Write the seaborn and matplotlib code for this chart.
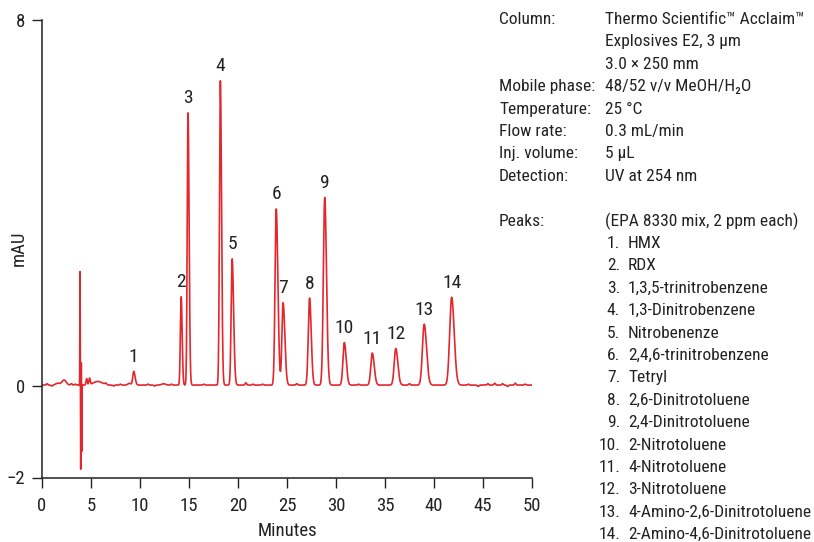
import numpy as np
import pandas as pd
import matplotlib
matplotlib.use("Agg")
import matplotlib.pyplot as plt
from matplotlib import font_manager
import seaborn as sns

# ---------------- data ----------------
peak_labels = ["1", "2", "3", "4", "5", "6", "7", "8", "9", "10", "11", "12", "13", "14"]
peak_times = [9.36, 14.2, 14.9, 18.2, 19.4, 23.9, 24.6, 27.3, 28.85, 30.85, 33.7, 36.1, 39.0, 41.8]
peak_heights = [0.30, 1.93, 5.95, 6.65, 2.76, 3.85, 1.80, 1.90, 4.10, 0.93, 0.70, 0.80, 1.33, 1.92]
peak_sigma_left = [0.10, 0.08, 0.08, 0.09, 0.10, 0.12, 0.12, 0.13, 0.14, 0.14, 0.15, 0.16, 0.18, 0.20]
peak_sigma_right = [0.14, 0.10, 0.11, 0.12, 0.15, 0.17, 0.18, 0.17, 0.18, 0.19, 0.20, 0.21, 0.24, 0.26]

# injection disturbance and baseline features
dist_times = [3.88, 3.95, 4.01, 4.06, 2.25, 1.6, 4.55, 4.85, 5.7, 8.9, 12.4,
              0.5, 1.0, 3.0, 3.4, 6.5, 7.3, 8.0, 10.8, 11.5, 13.2, 16.5, 20.8,
              21.5, 22.5, 26.0, 32.3, 37.5, 43.5, 44.5, 45.5, 46.2, 47.0, 47.5,
              48.3, 49.3]
dist_heights = [2.48, -1.84, 0.50, -1.45, 0.11, 0.04, 0.14, 0.14, 0.08, 0.04, 0.03,
                0.03, -0.02, 0.03, 0.02, 0.03, -0.02, 0.02, 0.02, -0.02, 0.02, 0.02, 0.05,
                0.02, 0.02, 0.03, 0.02, 0.03, 0.02, -0.03, 0.03, 0.04, 0.03, -0.03,
                0.04, 0.02]
dist_sigma = [0.018, 0.018, 0.015, 0.015, 0.22, 0.2, 0.06, 0.07, 0.45, 0.15, 0.2,
              0.08, 0.08, 0.08, 0.08, 0.08, 0.08, 0.08, 0.08, 0.08, 0.08, 0.08, 0.08,
              0.08, 0.08, 0.08, 0.08, 0.08, 0.08, 0.08, 0.08, 0.08, 0.08, 0.08,
              0.08, 0.08]
baseline_level = 0.02

x_range = (0, 50)
y_range = (-2, 8)
x_ticks = [0, 5, 10, 15, 20, 25, 30, 35, 40, 45, 50]
y_ticks = [-2, 0, 8]

info_keys = ["Column:", "", "", "Mobile phase:", "Temperature:", "Flow rate:",
             "Inj. volume:", "Detection:", "", "Peaks:"]
info_values = ["Thermo Scientific\u2122 Acclaim\u2122", "Explosives E2, 3 \u00b5m",
               "3.0 \u00d7 250 mm", "48/52 v/v MeOH/H\u2082O", "25 \u00b0C",
               "0.3 mL/min", "5 \u00b5L", "UV at 254 nm", "", "(EPA 8330 mix, 2 ppm each)"]
compound_names = ["HMX", "RDX", "1,3,5-trinitrobenzene", "1,3-Dinitrobenzene",
                  "Nitrobenenze", "2,4,6-trinitrobenzene", "Tetryl",
                  "2,6-Dinitrotoluene", "2,4-Dinitrotoluene", "2-Nitrotoluene",
                  "4-Nitrotoluene", "3-Nitrotoluene", "4-Amino-2,6-Dinitrotoluene",
                  "2-Amino-4,6-Dinitrotoluene"]

# ---------------- build trace from peak table ----------------
t = np.linspace(x_range[0], x_range[1], 10001)
signal = np.full_like(t, baseline_level)
for rt, h, sl, sr in zip(peak_times, peak_heights, peak_sigma_left, peak_sigma_right):
    s = np.where(t < rt, sl, sr)
    signal += h * np.exp(-0.5 * ((t - rt) / s) ** 2)
for rt, h, s in zip(dist_times, dist_heights, dist_sigma):
    signal += h * np.exp(-0.5 * ((t - rt) / s) ** 2)
df = pd.DataFrame({"Minutes": t, "mAU": signal})

# ---------------- styling ----------------
sns.set_style("ticks")
available = {f.name for f in font_manager.fontManager.ttflist}
family = [f for f in ["Liberation Sans Narrow", "Roboto Condensed", "Liberation Sans"] if f in available]
family = (family[:1] or []) + ["DejaVu Sans"]
plt.rcParams["font.family"] = family

fig = plt.figure(figsize=(8.14, 5.42), dpi=100)
ax = fig.add_axes([42 / 814, 1 - 477.5 / 542, 490 / 814, 457.5 / 542])

red = "#e4262d"
sns.lineplot(data=df, x="Minutes", y="mAU", ax=ax, color=red, linewidth=1.2)

ax.set_xlim(*x_range)
ax.set_ylim(*y_range)
ax.set_xticks(x_ticks)
ax.set_yticks(y_ticks)
for s in ["top", "right"]:
    ax.spines[s].set_visible(False)
for s in ["left", "bottom"]:
    ax.spines[s].set_color("#222222")
    ax.spines[s].set_linewidth(1.1)
ax.tick_params(axis="both", direction="out", length=7, width=1.0, color="#222222",
               labelsize=13.5, labelcolor="#222222")
ax.tick_params(axis="x", pad=7)
ax.tick_params(axis="y", pad=5)
ax.set_xlabel("Minutes", fontsize=13.5, color="#222222", labelpad=5)
ax.set_ylabel("mAU", fontsize=13.5, color="#222222")
ax.yaxis.set_label_coords(-14 / 490, 0.5)

# peak numbers
for lab, rt, h in zip(peak_labels, peak_times, peak_heights):
    ax.annotate(lab, xy=(rt, h + baseline_level), xytext=(0, 4), textcoords="offset points",
                ha="center", va="bottom", fontsize=14, color="#222222")

# info block
line_h = 22.4 / 542
y0 = 1 - 19.5 / 542
for i, (k, v) in enumerate(zip(info_keys, info_values)):
    y = y0 - i * line_h
    if k:
        fig.text(499 / 814, y, k, ha="left", va="center", fontsize=12.5, color="#222222")
    if v:
        fig.text(605 / 814, y, v, ha="left", va="center", fontsize=12.5, color="#222222")
for j, name in enumerate(compound_names):
    y = y0 - (len(info_keys) + j) * line_h
    fig.text(620 / 814, y, f"{j + 1}.", ha="right", va="center", fontsize=12.5, color="#222222")
    fig.text(628 / 814, y, name, ha="left", va="center", fontsize=12.5, color="#222222")

fig.savefig("out.png", dpi=100)
